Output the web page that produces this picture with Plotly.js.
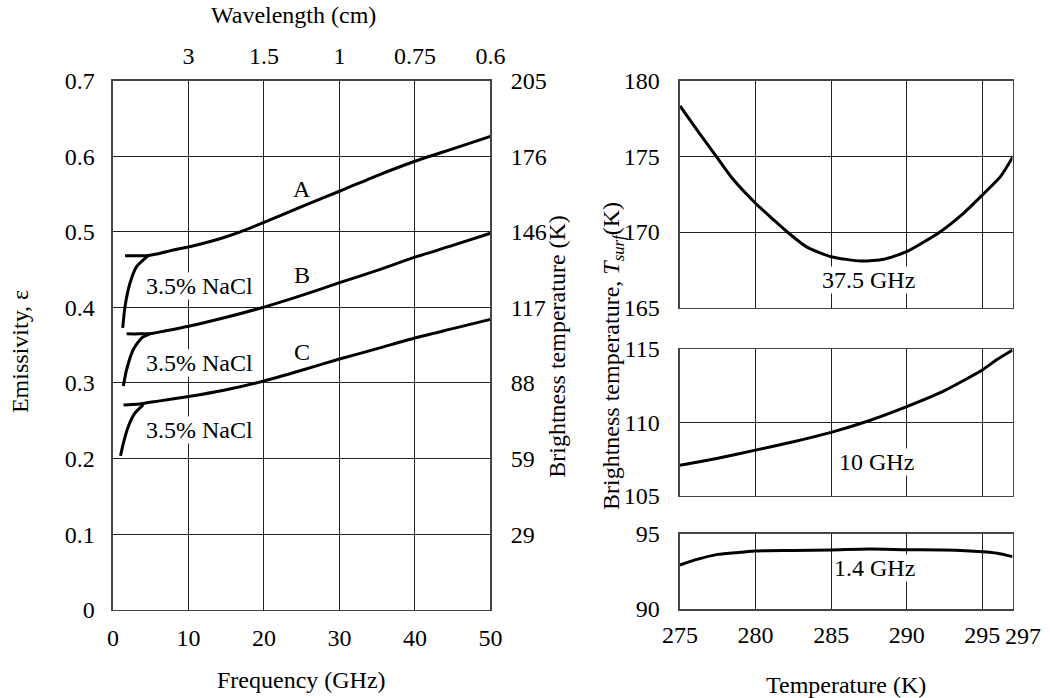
<!DOCTYPE html>
<html>
<head>
<meta charset="utf-8">
<script src="https://cdn.plot.ly/plotly-3.0.1.min.js"></script>
<style>html,body{margin:0;padding:0;background:#fff;}#chart{width:1050px;height:698px;}</style>
</head>
<body>
<div id="chart"></div>
<script>
// ---- Left chart: emissivity vs frequency ----
const freqA = [1.6, 3, 4.7, 6, 8, 10, 13, 15, 17.3, 20, 25, 30, 35, 40, 45, 50];
const epsA  = [0.4685, 0.4685, 0.4688, 0.471, 0.476, 0.480, 0.4875, 0.4935, 0.5015, 0.5125, 0.5335, 0.5537, 0.5745, 0.5934, 0.6098, 0.6264];
const freqAsalt = [1.29, 1.59, 2.25, 3.13, 4.68];
const epsAsalt  = [0.373, 0.401, 0.432, 0.454, 0.4685];

const freqB = [1.8, 3.5, 5.1, 7, 10, 15, 20, 25, 30, 35, 40, 45, 50];
const epsB  = [0.365, 0.365, 0.3655, 0.369, 0.375, 0.387, 0.4004, 0.4159, 0.4327, 0.449, 0.4665, 0.482, 0.4982];
const freqBsalt = [1.37, 1.8, 2.68, 3.78, 4.9];
const epsBsalt  = [0.296, 0.3175, 0.344, 0.3595, 0.365];

const freqC = [1.4, 2.5, 4, 6, 10, 15, 20, 25, 30, 35, 40, 45, 50];
const epsC  = [0.271, 0.2715, 0.273, 0.276, 0.282, 0.291, 0.3026, 0.3168, 0.3317, 0.3454, 0.3595, 0.3719, 0.3842];
const freqCsalt = [1.0, 1.37, 2.03, 2.9, 4.0];
const epsCsalt  = [0.2035, 0.220, 0.2424, 0.26, 0.271];

const freqTicks = [0, 10, 20, 30, 40, 50];
const emisTicks = [0, 0.1, 0.2, 0.3, 0.4, 0.5, 0.6, 0.7];
const emisTickText = ['0', '0.1', '0.2', '0.3', '0.4', '0.5', '0.6', '0.7'];
const tbTickVals = [0.1, 0.2, 0.3, 0.4, 0.5, 0.6, 0.7];
const tbTickText = ['29', '59', '88', '117', '146', '176', '205'];
const wlTickVals = [10, 20, 30, 40, 50];
const wlTickText = ['3', '1.5', '1', '0.75', '0.6'];

// ---- Right chart: brightness temperature vs surface temperature ----
const temp37 = [275, 276.3, 277.4, 278.5, 280, 281.2, 282.1, 283.4, 285, 287, 288.5, 290, 292.2, 293.75, 295, 296.2, 297];
const tb37   = [178.33, 176.5, 175.0, 173.5, 171.9, 170.8, 170.0, 169.0, 168.37, 168.08, 168.2, 168.7, 170.0, 171.23, 172.44, 173.66, 174.93];
const temp10 = [275, 277.5, 280, 282.5, 285, 287.5, 290, 292.5, 295, 296, 297];
const tb10   = [107.07, 107.55, 108.11, 108.68, 109.32, 110.11, 111.07, 112.16, 113.57, 114.3, 114.92];
const temp14 = [275, 276, 277.5, 279, 280, 282.5, 285, 287.5, 290, 292.5, 295, 296, 297];
const tb14   = [92.93, 93.27, 93.64, 93.78, 93.87, 93.9, 93.93, 94.0, 93.95, 93.93, 93.82, 93.72, 93.49];
const tempTicks = [275, 280, 285, 290, 295];
const tempEnd = 297;
const ticks37 = [165, 170, 175, 180];
const ticks10 = [105, 110, 115];
const ticks14 = [90, 95];

const FONT = '"Liberation Serif", "Times New Roman", serif';
const lineStyle = {color: 'black', width: 3, shape: 'spline', smoothing: 0.6};
function curve(x, y, xa, ya) {
  return {x: x, y: y, xaxis: xa, yaxis: ya, type: 'scatter', mode: 'lines',
          line: lineStyle, hoverinfo: 'skip'};
}

const data = [
  curve(freqA, epsA, 'x', 'y'),
  curve(freqAsalt, epsAsalt, 'x', 'y'),
  curve(freqB, epsB, 'x', 'y'),
  curve(freqBsalt, epsBsalt, 'x', 'y'),
  curve(freqC, epsC, 'x', 'y'),
  curve(freqCsalt, epsCsalt, 'x', 'y'),
  {x: [freqTicks[0], freqTicks[freqTicks.length - 1]], y: [emisTicks[0], emisTicks[emisTicks.length - 1]],
   xaxis: 'x2', yaxis: 'y2', type: 'scatter', mode: 'markers', marker: {opacity: 0}, hoverinfo: 'skip'},
  curve(temp37, tb37, 'x5', 'y5'),
  curve(temp10, tb10, 'x4', 'y4'),
  curve(temp14, tb14, 'x3', 'y3')
];

const GRID = '#222';
const LINE = '#444';
const tickFont = {family: FONT, size: 24, color: 'black'};
const txtFont = {family: FONT, size: 24, color: 'black'};
function ax(extra) {
  return Object.assign({
    showgrid: true, gridcolor: GRID, gridwidth: 1,
    showline: true, linecolor: LINE, linewidth: 1.5,
    zeroline: false, ticks: 'outside', tickcolor: 'rgba(0,0,0,0)',
    tickfont: tickFont, tickangle: 0, fixedrange: true
  }, extra);
}

const LX = [0.1076, 0.4671];
const RX = [0.6476, 0.9643];

function lab(text, xref, yref, x, y, extra) {
  return Object.assign({text: text, xref: xref, yref: yref, x: x, y: y, showarrow: false,
    xanchor: 'center', yanchor: 'middle', font: txtFont}, extra || {});
}

const layout = {
  width: 1050, height: 698,
  margin: {l: 0, r: 0, t: 0, b: 0},
  paper_bgcolor: 'white', plot_bgcolor: 'white',
  showlegend: false,
  font: {family: FONT, size: 24, color: 'black'},
  xaxis: ax({domain: LX, anchor: 'y', range: [0, 50], tickvals: freqTicks, ticklen: 6}),
  yaxis: ax({domain: [0.1265, 0.8844], anchor: 'x', range: [0, 0.7], tickvals: emisTicks, ticktext: emisTickText, ticklen: 12}),
  xaxis2: ax({overlaying: 'x', side: 'top', anchor: 'y', range: [0, 50], tickvals: wlTickVals, ticktext: wlTickText, showgrid: false, ticklen: 6}),
  yaxis2: ax({overlaying: 'y', side: 'right', anchor: 'x', range: [0, 0.7], tickvals: tbTickVals, ticktext: tbTickText, showgrid: false, ticklen: 14}),
  xaxis3: ax({domain: RX, anchor: 'y3', range: [275, tempEnd], tickvals: tempTicks, mirror: true, ticklen: 4}),
  xaxis4: ax({domain: RX, anchor: 'y4', range: [275, tempEnd], tickvals: tempTicks, mirror: true, showticklabels: false}),
  xaxis5: ax({domain: RX, anchor: 'y5', range: [275, tempEnd], tickvals: tempTicks, mirror: true, showticklabels: false}),
  yaxis3: ax({domain: [0.1275, 0.235], anchor: 'x3', range: [90, 95], tickvals: ticks14, mirror: true, ticklen: 14}),
  yaxis4: ax({domain: [0.2898, 0.5], anchor: 'x4', range: [105, 115], tickvals: ticks10, mirror: true, ticklen: 14}),
  yaxis5: ax({domain: [0.5592, 0.8844], anchor: 'x5', range: [165, 180], tickvals: ticks37, mirror: true, ticklen: 14}),
  annotations: [
    lab('Wavelength (cm)', 'paper', 'paper', 0.2795, 0.9785),
    lab('Frequency (GHz)', 'paper', 'paper', 0.2867, 0.0258),
    lab('Temperature (K)', 'paper', 'paper', 0.8057, 0.0186),
    lab('Emissivity, ε', 'paper', 'paper', 0.019, 0.497, {textangle: -90}),
    lab('Brightness temperature (K)', 'paper', 'paper', 0.5305, 0.5033, {textangle: -90}),
    lab('Brightness temperature, <i>T</i><sub><i>surf</i></sub>(K)', 'paper', 'paper', 0.5838, 0.49, {textangle: -90}),
    lab(String(tempEnd), 'x3', 'paper', tempEnd, 0.0888, {xshift: 10}),
    lab('A', 'x', 'y', 25.0, 0.5569),
    lab('B', 'x', 'y', 25.0, 0.4429),
    lab('C', 'x', 'y', 25.0, 0.3409),
    lab('3.5% NaCl', 'x', 'y', 11.4, 0.4278, {bgcolor: 'white', borderpad: 0}),
    lab('3.5% NaCl', 'x', 'y', 11.4, 0.3258, {bgcolor: 'white', borderpad: 0}),
    lab('3.5% NaCl', 'x', 'y', 11.4, 0.2372, {bgcolor: 'white', borderpad: 0}),
    lab('37.5 GHz', 'x5', 'y5', 287.44, 166.83, {bgcolor: 'white', borderpad: 0}),
    lab('10 GHz', 'x4', 'y4', 287.97, 107.3, {bgcolor: 'white', borderpad: 0}),
    lab('1.4 GHz', 'x3', 'y3', 287.9, 92.71, {bgcolor: 'white', borderpad: 0})
  ]
};

Plotly.newPlot('chart', data, layout, {staticPlot: true, displayModeBar: false});
</script>
</body>
</html>
